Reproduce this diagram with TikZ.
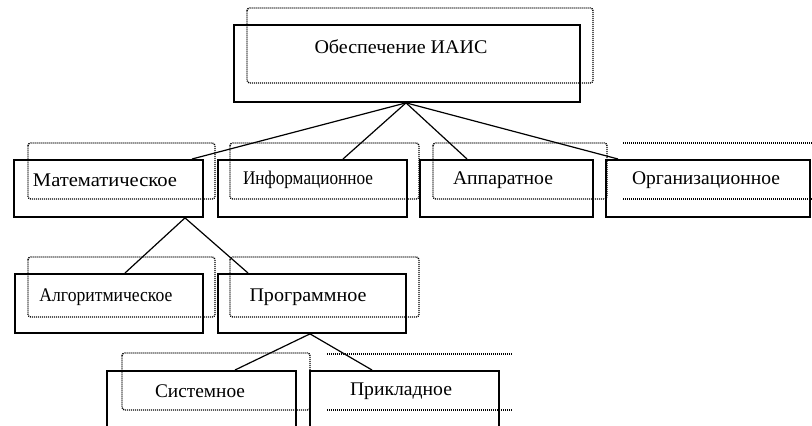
\documentclass[tikz,border=0pt]{standalone}
\usepackage{fontspec}
\setmainfont{Liberation Serif}
\usetikzlibrary{calc}
% stretch a label horizontally to a given width (in px units of 0.75pt)
\newcommand{\wlabel}[2]{\resizebox{\dimexpr #1pt*3/4\relax}{\height}{#2}}
\begin{document}
\begin{tikzpicture}[x=0.75pt,y=-0.75pt,
  solidbox/.style 2 args={draw, line width=1.4pt, anchor=north west, inner sep=0pt,
    minimum width=#1*0.75pt, minimum height=#2*0.75pt},
  shadowline/.style={line width=1pt, dash pattern=on 0.8pt off 0.7pt, rounded corners=2pt},
  link/.style={line width=0.9pt},
  lbl/.style={inner sep=0pt, font=\fontsize{14.5}{16}\selectfont}]
\useasboundingbox (0,0) rectangle (812,425);
\clip (0,0) rectangle (812,425);

% solid frames
\node[solidbox={346}{77}] (root) at (233,24) {};
\node[solidbox={189}{57}] (mat)  at (13,159)  {};
\node[solidbox={189}{57}] (inf)  at (217,159) {};
\node[solidbox={173}{57}] (app)  at (419,159) {};
\node[solidbox={204}{57}] (org)  at (605,159) {};
\node[solidbox={188}{59}] (alg)  at (14,273)  {};
\node[solidbox={188}{59}] (prog) at (217,273) {};
\node[solidbox={189}{70}] (sys)  at (106,370) {};
\node[solidbox={189}{70}] (prik) at (309,370) {};

% dotted text frames
\draw[shadowline] (247,8) rectangle (593,83);
\draw[shadowline] (28,143) rectangle (215,199);
\draw[shadowline] (230,143) rectangle (419,199);
\draw[shadowline] (433,143) rectangle (607,199);
\draw[shadowline] (623,143) -- (830,143) (623,199) -- (830,199);
\draw[shadowline] (28,257) rectangle (215,317);
\draw[shadowline] (230,257) rectangle (419,317);
\draw[shadowline] (122,353) rectangle (310,410);
\draw[shadowline] (327,354) -- (512,354) (327,410) -- (512,410);

% labels
\node[lbl] (troot) at (401,47)  {\wlabel{173}{Обеспечение ИАИС}};
\node[lbl] (tmat)  at (105,180) {\wlabel{144}{Математическое}};
\node[lbl] (tinf)  at (308,180) {\wlabel{130}{Информационное}};
\node[lbl] (tapp)  at (503,180) {\wlabel{100}{Аппаратное}};
\node[lbl] (torg)  at (706,180) {\wlabel{148}{Организационное}};
\node[lbl] (talg)  at (106,297) {\wlabel{133}{Алгоритмическое}};
\node[lbl] (tprog) at (308,297) {\wlabel{117}{Программное}};
\node[lbl] (tsys)  at (200,391) {\wlabel{90}{Системное}};
\node[lbl] (tprik) at (401,391) {\wlabel{102}{Прикладное}};

% branch points
\coordinate (rootfork) at ($(root.south west)+(173,0)$);
\coordinate (matfork)  at ($(mat.south west)+(172,0)$);
\coordinate (progfork) at ($(prog.south west)+(93,0)$);

% connectors
\draw[link] (rootfork) -- ($(mat.north west)+(179,0)$);
\draw[link] (rootfork) -- ($(inf.north west)+(126,0)$);
\draw[link] (rootfork) -- ($(app.north west)+(48,0)$);
\draw[link] (rootfork) -- ($(org.north west)+(13,0)$);
\draw[link] (matfork) -- ($(alg.north west)+(111,0)$);
\draw[link] (matfork) -- ($(prog.north west)+(31,0)$);
\draw[link] (progfork) -- ($(sys.north west)+(129,0)$);
\draw[link] (progfork) -- ($(prik.north west)+(63,0)$);
\end{tikzpicture}
\end{document}
